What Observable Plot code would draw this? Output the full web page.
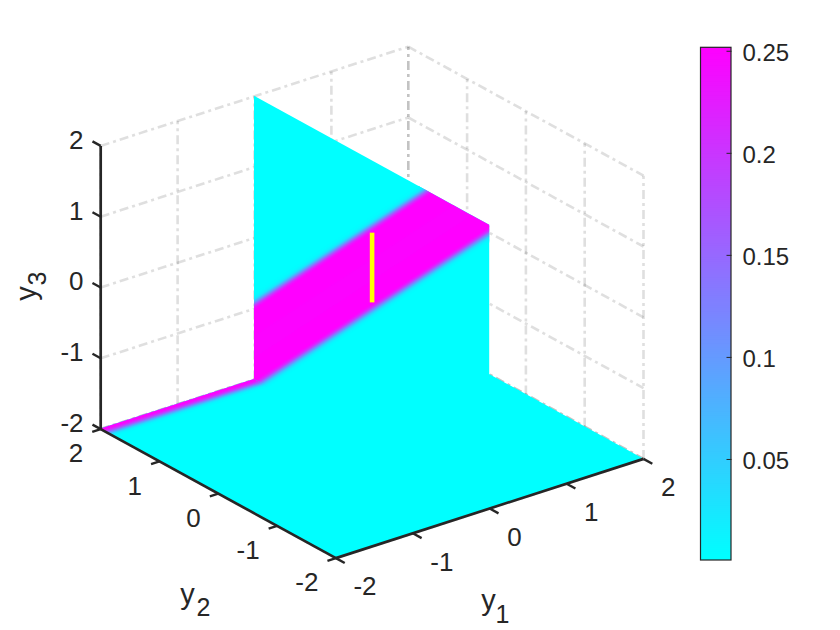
<!DOCTYPE html>
<html>
<head>
<meta charset="utf-8">
<style>html,body{margin:0;padding:0;background:#fff}</style>
<script src="https://cdn.jsdelivr.net/npm/d3@7"></script>
<script src="https://cdn.jsdelivr.net/npm/@observablehq/plot@0.6"></script>
</head>
<body>
<div id="chart"></div>
<script>
// ---- values ----
const axisTicks = [-2, -1, 0, 1, 2];
const colorbarTicks = [0.05, 0.1, 0.15, 0.2, 0.25];
const colorDomain = [0.0005, 0.2517];
const colorRange = ["#00ffff", "#ff00ff"];
// density across the band, as a function of y2 + y3
const bandOffset = [-0.25, -0.23, -0.21, -0.19, -0.17, -0.15, -0.13, -0.11, -0.09, -0.07, -0.05, -0.03, 0.30, 0.60, 0.98, 1.00, 1.02, 1.04, 1.06, 1.08, 1.10, 1.12, 1.14, 1.16, 1.18, 1.20];
const bandValue  = [0.002, 0.006, 0.014, 0.03, 0.055, 0.09, 0.125, 0.165, 0.2, 0.228, 0.244, 0.2517, 0.249, 0.2517, 0.244, 0.228, 0.2, 0.165, 0.125, 0.085, 0.05, 0.024, 0.012, 0.005, 0.002, 0];
// the segment drawn in yellow: y1, y2, y3
const segment = [[0, 0, 0], [0, 0, 0.985]];

// ---- view of the 3-D box, and of the colour bar ----
const P = (a, b, c) => ({x: 371.6 + 76.9 * a - 58.8 * b, y: 301.9 - 24.8 * a - 32.25 * b - 70.8 * c});
const barX = [700.5, 731], barY = [560, 47.3];
const cbY = d3.scaleLinear().domain(colorDomain).range(barY);

// ---- build mark tables from those values ----
const grid = [];
const addLine = (id, pts) => pts.forEach(p => grid.push({id, ...P(...p)}));
for (const t of axisTicks) {
  addLine(`a${t}`, [[t, 2, -2], [t, 2, 2]]);
  addLine(`b${t}`, [[2, t, -2], [2, t, 2]]);
  addLine(`c${t}`, [[-2, 2, t], [2, 2, t]]);
  addLine(`d${t}`, [[2, 2, t], [2, -2, t]]);
  addLine(`e${t}`, [[t, 2, -2], [t, -2, -2]]);
  addLine(`f${t}`, [[-2, t, -2], [2, t, -2]]);
}
const seg = (a, b) => { const p = P(...a), q = P(...b); return {x1: p.x, y1: p.y, x2: q.x, y2: q.y}; };
const axesLines = [
  seg([-2, 2, -2], [-2, 2, 2]),
  seg([-2, 2, -2], [-2, -2, -2]),
  seg([-2, -2, -2], [2, -2, -2])
];
const tickLines = axisTicks.flatMap(t => [
  seg([-2, 2, t], [-2, 2.14, t]),
  seg([-2, t, -2], [-2.11, t, -2]),
  seg([t, -2, -2], [t, -2.15, -2])
]);

// A convex polygon in the picture, as rows for an area mark.
function polyRows(id, v, corners) {
  const pts = corners.map(c => P(...c));
  const xs = [...new Set(pts.map(p => p.x))].sort((a, b) => a - b);
  return xs.map(x => {
    const ys = [];
    pts.forEach((p, i) => {
      const q = pts[(i + 1) % pts.length];
      if (x < Math.min(p.x, q.x) || x > Math.max(p.x, q.x)) return;
      if (p.x === q.x) ys.push(p.y, q.y);
      else ys.push(p.y + (q.y - p.y) * (x - p.x) / (q.x - p.x));
    });
    return {id, v, x, y1: Math.min(...ys), y2: Math.max(...ys)};
  });
}
// One band strip on the wall y1 = 0.
function wallRows(id, v, c0, c1) {
  const breaks = [-2, 2, c0 + 2, c0 - 2, c1 + 2, c1 - 2].filter(b => b >= -2 && b <= 2);
  return [...new Set(breaks)].sort((a, b) => b - a).flatMap(b => {
    const lo = Math.max(-2, c0 - b), hi = Math.min(2, c1 - b);
    if (lo > hi) return [];
    return [{id, v, x: P(0, b, lo).x, y1: P(0, b, lo).y, y2: P(0, b, hi).y}];
  });
}
const floorRows = polyRows("floor", 0, [[-2, 2, -2], [2, 2, -2], [2, -2, -2], [-2, -2, -2]]);
const wallBase = wallRows("wall", 0, -4, 4);
bandOffset.forEach((c, i) => {
  if (i === bandOffset.length - 1) return;
  const next = bandOffset[i + 1], v = bandValue[i];
  wallBase.push(...wallRows(`w${i}`, v, c, next + 0.012));
  if (c < 0) floorRows.push(...polyRows(`f${i}`, v, [[-2, c + 2, -2], [2, c + 2, -2], [2, Math.min(2, next + 2 + 0.012), -2], [-2, Math.min(2, next + 2 + 0.012), -2]]));
});
const line3 = segment.map(p => P(...p));

const barLevels = d3.range(colorDomain[0], colorDomain[1], (colorDomain[1] - colorDomain[0]) / 256);

const fmt = d => String(d);
const ink = "#262626";
const tx = (rows, o) => Plot.text(rows, {fill: ink, lineAnchor: "middle", fontSize: 26, ...o});

const chart = Plot.plot({
  width: 840, height: 630, margin: 0,
  style: {fontFamily: "'Liberation Sans', Arial, sans-serif", background: "#fff"},
  x: {domain: [0, 840], axis: null},
  y: {domain: [630, 0], axis: null},
  color: {type: "linear", domain: colorDomain, range: colorRange, clamp: true},
  marks: [
    Plot.line(grid, {x: "x", y: "y", z: "id", stroke: ink, strokeOpacity: 0.15, strokeWidth: 2.6, strokeDasharray: "9,4,3,4", strokeLinecap: "butt"}),
    Plot.area(floorRows, {x1: "x", y1: "y1", y2: "y2", z: "id", fill: "v"}),
    Plot.area(wallBase, {x1: "x", y1: "y1", y2: "y2", z: "id", fill: "v"}),
    Plot.line(line3, {x: "x", y: "y", stroke: "#ffff00", strokeWidth: 4.6, strokeLinecap: "butt"}),
    Plot.link(axesLines, {x1: "x1", y1: "y1", x2: "x2", y2: "y2", stroke: ink, strokeWidth: 2.7}),
    Plot.link(tickLines, {x1: "x1", y1: "y1", x2: "x2", y2: "y2", stroke: ink, strokeWidth: 2.4}),

    tx(axisTicks, {x: () => 83, y: d => P(-2, 2, d).y - 5.5, text: fmt, textAnchor: "end"}),
    tx(axisTicks, {x: d => P(-2, d, -2).x - 17.5, y: d => P(-2, d, -2).y + 25, text: fmt, textAnchor: "end"}),
    tx(axisTicks, {x: d => P(d, -2, -2).x + 17.5, y: d => P(d, -2, -2).y + 29, text: fmt, textAnchor: "start"}),

    tx(["y"], {x: 488, y: 600, text: d => d, fontSize: 29, textAnchor: "middle"}),
    tx(["1"], {x: 502, y: 614, text: d => d, fontSize: 25, textAnchor: "middle"}),
    tx(["y"], {x: 187, y: 594, text: d => d, fontSize: 29, textAnchor: "middle"}),
    tx(["2"], {x: 203, y: 607, text: d => d, fontSize: 25, textAnchor: "middle"}),
    tx(["y"], {x: 26, y: 293, text: d => d, fontSize: 29, textAnchor: "middle", rotate: -90}),
    tx(["3"], {x: 37, y: 278, text: d => d, fontSize: 25, textAnchor: "middle", rotate: -90}),

    Plot.rect(barLevels, {x1: () => barX[0], x2: () => barX[1], y1: d => cbY(d), y2: () => barY[1], fill: d => d}),
    Plot.rect([0], {x1: () => barX[0], x2: () => barX[1], y1: () => barY[0], y2: () => barY[1], fill: "none", stroke: ink, strokeWidth: 1.2}),
    Plot.link(colorbarTicks, {x1: () => barX[1] - 5, x2: () => barX[1], y1: d => cbY(d), y2: d => cbY(d), stroke: ink, strokeWidth: 1}),
    tx(colorbarTicks, {x: () => 742, y: d => cbY(d) + 2, text: d => String(d), fontSize: 24, textAnchor: "start"})
  ]
});
document.getElementById("chart").appendChild(chart);
</script>
</body>
</html>
